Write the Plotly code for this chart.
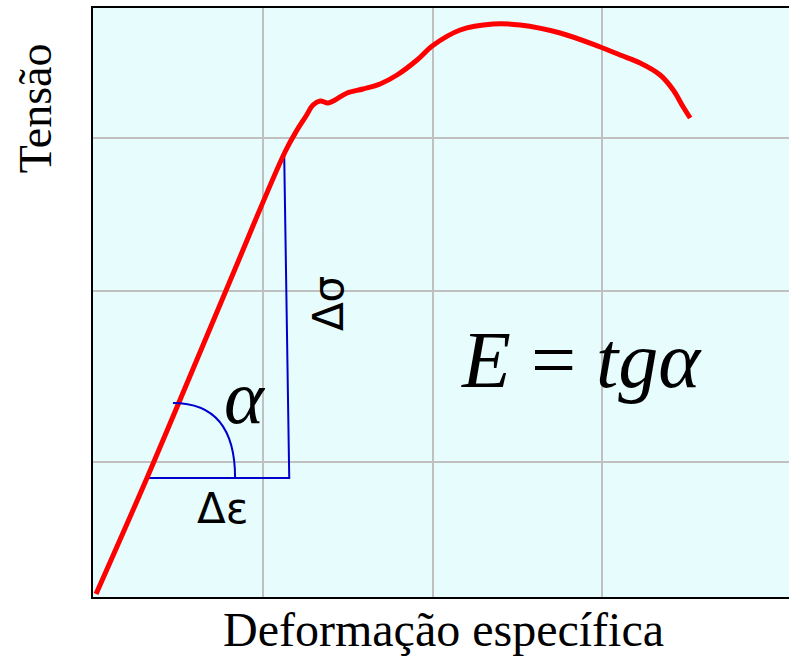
import plotly.graph_objects as go

# Stress-strain curve (x: strain in grid units, y: stress in arbitrary units)
strain = [0.018, 0.318, 0.542, 0.807, 1.131, 1.202, 1.255, 1.296, 1.338, 1.385, 1.426,
          1.497, 1.591, 1.691, 1.791, 1.909, 1.998, 2.163, 2.357, 2.516, 2.752, 2.988,
          3.105, 3.223, 3.341, 3.418, 3.477, 3.518]
stress = [3, 119, 209, 316, 445, 467, 481, 492, 496, 494, 497,
          504, 508, 513, 522, 537, 551, 567, 573, 572, 564, 550,
          542, 534, 522, 507, 490, 479]

# Triangle used to show the slope
tri_x = [0.318, 1.156, 1.126]
tri_y = [119, 119, 445]

# Angle arc (start, control, end)
arc_x = [0.471, 0.837, 0.837]
arc_y = [194, 194, 119]

x_grid = [1, 2, 3]
y_grid = [135, 306, 459]
x_range = [0, 4.10]
y_range = [0, 589]

fig = go.Figure()

fig.add_trace(go.Scatter(x=tri_x, y=tri_y, mode="lines",
                         line=dict(color="#0000cd", width=2), hoverinfo="skip"))
fig.add_trace(go.Scatter(x=strain, y=stress, mode="lines",
                         line=dict(color="#ff0000", width=5, shape="spline", smoothing=1.0),
                         hoverinfo="skip"))

fig.add_shape(type="path",
              path=f"M {arc_x[0]},{arc_y[0]} Q {arc_x[1]},{arc_y[1]} {arc_x[2]},{arc_y[2]}",
              xref="x", yref="y", line=dict(color="#0000cd", width=2))

serif = "Liberation Serif, Times New Roman, serif"
sans = "DejaVu Sans, Arial, sans-serif"

fig.add_annotation(x=0.896, y=200, xref="x", yref="y", text="<i>α</i>", showarrow=False,
                   font=dict(family=serif, size=76, color="black"), xanchor="center", yanchor="middle")
fig.add_annotation(x=2.88, y=237, xref="x", yref="y", text="<i>E</i> = <i>tg</i><i>α</i>", showarrow=False,
                   font=dict(family=serif, size=80, color="black"), xanchor="center", yanchor="middle")
fig.add_annotation(x=1.385, y=293, xref="x", yref="y", text="Δσ", showarrow=False, textangle=-90,
                   font=dict(family=sans, size=42, color="black"), xanchor="center", yanchor="middle")
fig.add_annotation(x=0.763, y=89, xref="x", yref="y", text="Δε", showarrow=False,
                   font=dict(family=sans, size=42, color="black"), xanchor="center", yanchor="middle")

fig.add_annotation(x=-0.0833, y=0.830, xref="paper", yref="paper", text="Tensão", showarrow=False,
                   textangle=-90, font=dict(family=serif, size=46, color="black"),
                   xanchor="center", yanchor="middle")
fig.add_annotation(x=0.504, y=-0.056, xref="paper", yref="paper", text="Deformação específica",
                   showarrow=False, font=dict(family=serif, size=48, color="black"),
                   xanchor="center", yanchor="middle")

fig.update_layout(
    width=789, height=657,
    margin=dict(l=93, r=0, t=8, b=60),
    paper_bgcolor="white",
    plot_bgcolor="#e6fcfd",
    showlegend=False,
)
fig.update_xaxes(range=x_range, tickvals=x_grid, showticklabels=False, ticks="",
                 showgrid=True, gridcolor="#c0c0c0", gridwidth=2, zeroline=False,
                 showline=True, linecolor="black", linewidth=2, mirror=True)
fig.update_yaxes(range=y_range, tickvals=y_grid, showticklabels=False, ticks="",
                 showgrid=True, gridcolor="#c0c0c0", gridwidth=2, zeroline=False,
                 showline=True, linecolor="black", linewidth=2, mirror=False)

fig.write_html("out.html", config={"displayModeBar": False},
               post_script="document.body.style.margin='0px';document.body.style.overflow='hidden';")
